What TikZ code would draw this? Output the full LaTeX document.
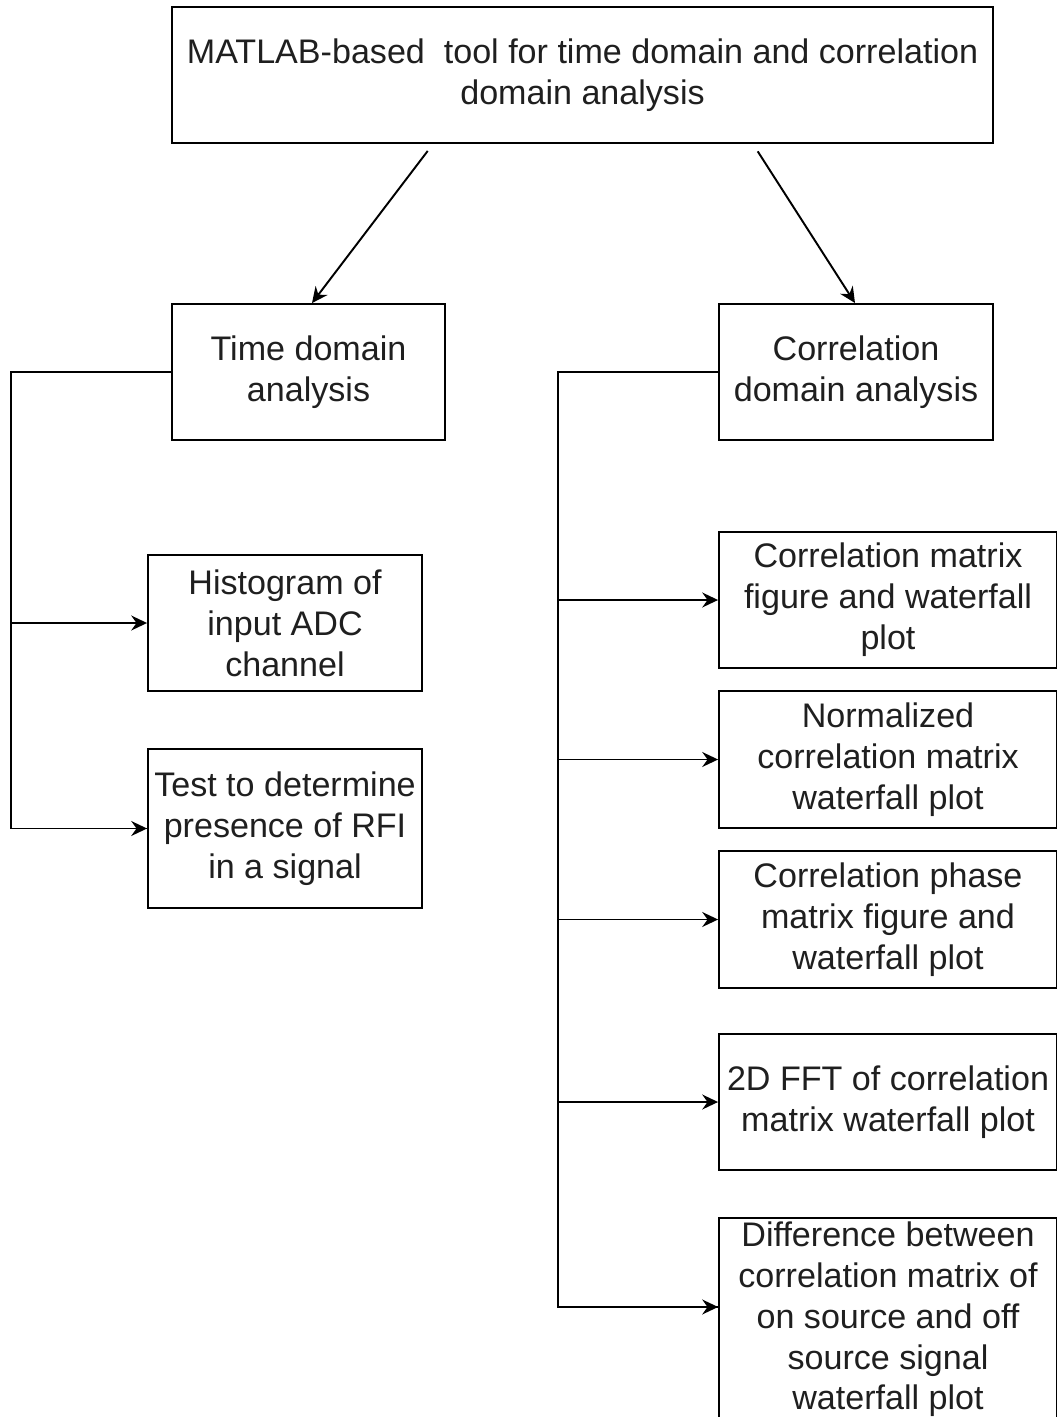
\documentclass[tikz,border=0pt]{standalone}
\usepackage{fontspec}
\setmainfont{Liberation Sans}
\usetikzlibrary{arrows.meta}
\begin{document}
\begin{tikzpicture}[x=0.02cm,y=-0.02cm,
  box/.style={draw=black, line width=1.1pt, align=center, inner sep=1pt,
    font=\fontsize{19.4}{23.3}\selectfont, text=black!88},
  link/.style={line width=1.1pt},
  arr/.style={link, -{Stealth[length=9pt,width=8.5pt,inset=3pt]}}]
\path[use as bounding box, clip] (0,0) rectangle (1057,1417);
\node[box, minimum width=16.42cm, minimum height=2.72cm] (tool) at (582.5,75)
  {MATLAB-based\ \ tool for time domain and correlation\\domain analysis};
\node[box, minimum width=5.46cm, minimum height=2.72cm] (td) at (308.5,372) {Time domain\\analysis};
\node[box, minimum width=5.48cm, minimum height=2.72cm] (cd) at (856,372) {Correlation\\domain analysis};
\node[box, minimum width=5.48cm, minimum height=2.72cm] (hist) at (285,623) {Histogram of\\input ADC\\channel};
\node[box, minimum width=5.48cm, minimum height=3.18cm] (rfi) at (285,828.5) {Test to determine\\presence of RFI\\in a signal};
\node[box, minimum width=6.76cm, minimum height=2.72cm] (cm) at (888,600) {Correlation matrix\\figure and waterfall\\plot};
\node[box, minimum width=6.76cm, minimum height=2.74cm] (ncm) at (888,759.5) {Normalized\\correlation matrix\\waterfall plot};
\node[box, minimum width=6.76cm, minimum height=2.74cm] (cpm) at (888,919.5) {Correlation phase\\matrix figure and\\waterfall plot};
\node[box, minimum width=6.76cm, minimum height=2.72cm] (fft) at (888,1102) {2D FFT of correlation\\matrix waterfall plot};
\node[box, minimum width=6.76cm, anchor=north, inner ysep=2pt] (diff) at (888,1217)
  {Difference between\\correlation matrix of\\on source and off\\source signal\\waterfall plot};
\draw[arr, shorten <=5pt] ([xshift=-2.99cm]tool.south) -- ([xshift=0.07cm]td.north);
\draw[arr, shorten <=5pt] ([xshift=3.41cm]tool.south) -- ([xshift=-0.02cm]cd.north);
\draw[link] (td.west) -- ++(-160,0) coordinate (ltrunk) |- (rfi.west);
\draw[arr] (ltrunk) |- (hist.west);
\draw[arr] (ltrunk) |- (rfi.west);
\draw[link] (cd.west) -- ++(-160,0) coordinate (rtrunk) |- ([yshift=-1.8cm]diff.north west);
\foreach \n in {cm,ncm,cpm,fft}
  \draw[arr] (rtrunk) |- (\n.west);
\draw[arr] (rtrunk) |- ([yshift=-1.8cm]diff.north west);
\end{tikzpicture}
\end{document}
